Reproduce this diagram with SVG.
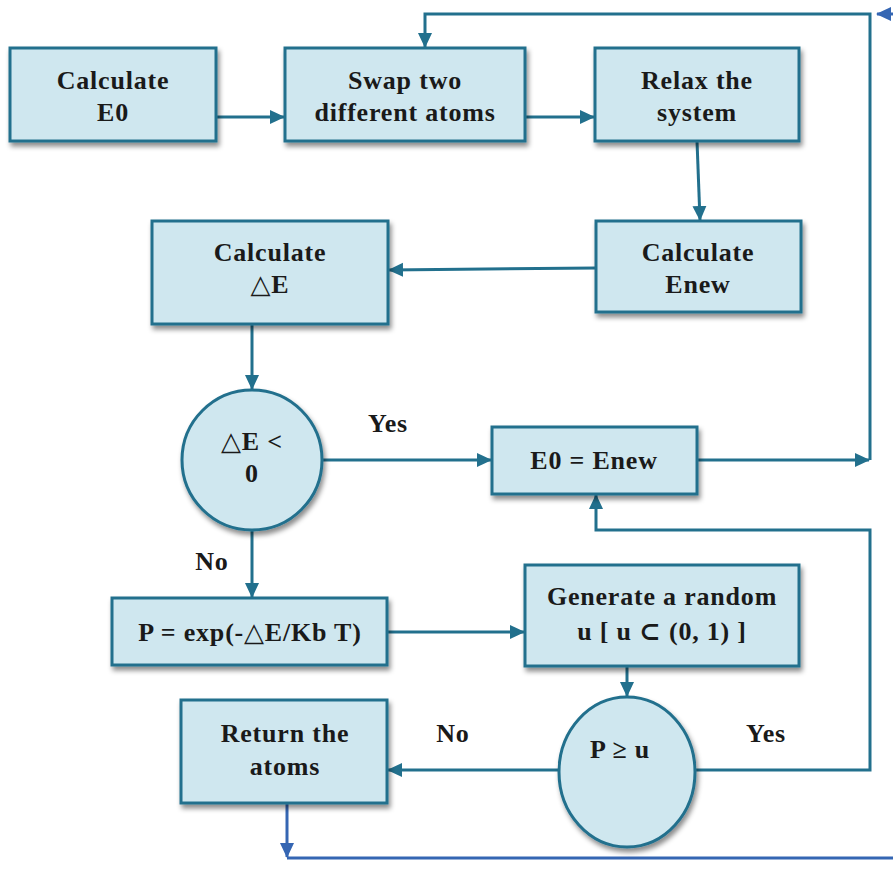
<svg xmlns="http://www.w3.org/2000/svg" width="893" height="876" viewBox="0 0 893 876">
  <style>
    .box { fill: #cfe7ef; stroke: #22708d; stroke-width: 3; filter: url(#shadow); }
    .lbl { font-family: "Liberation Serif", "DejaVu Serif", serif; font-weight: bold; font-size: 26px; letter-spacing: 0.8px; fill: #1a1a1a; text-anchor: middle; }
    .edge { fill: none; stroke: #22708d; stroke-width: 3; }
    .edge.blue { stroke: #3566b3; }
  </style>
  <defs>
    <filter id="shadow" x="-10%" y="-10%" width="125%" height="130%">
      <feDropShadow dx="2" dy="4" stdDeviation="2.5" flood-color="#000" flood-opacity="0.45"/>
    </filter>
    <marker id="arr" markerUnits="userSpaceOnUse" markerWidth="16" markerHeight="16" refX="14" refY="8" orient="auto">
      <path d="M0,1 L15,8 L0,15 Z" fill="#22708d"/>
    </marker>
    <marker id="arrBlue" markerUnits="userSpaceOnUse" markerWidth="16" markerHeight="16" refX="14" refY="8" orient="auto">
      <path d="M0,1 L15,8 L0,15 Z" fill="#3566b3"/>
    </marker>
  </defs>

  <rect width="893" height="876" fill="#fff"/>

  <!-- connectors -->
  <g id="connectors">
    <path class="edge" d="M216,117 H284" marker-end="url(#arr)"/>
    <path class="edge" d="M525,117 H594" marker-end="url(#arr)"/>
    <path class="edge" d="M697,141 L700,220" marker-end="url(#arr)"/>
    <path class="edge" d="M596,268 L389,270" marker-end="url(#arr)"/>
    <path class="edge" d="M252,324 V389" marker-end="url(#arr)"/>
    <path class="edge" d="M321,460 H491" marker-end="url(#arr)"/>
    <path class="edge" d="M697,460 H869" marker-end="url(#arr)"/>
    <path class="edge" d="M870,460 V14 H425 V47" marker-end="url(#arr)"/>
    <path class="edge" d="M252,529 V597" marker-end="url(#arr)"/>
    <path class="edge" d="M387,632 H524" marker-end="url(#arr)"/>
    <path class="edge" d="M627,666 V696" marker-end="url(#arr)"/>
    <path class="edge" d="M559,770 H388" marker-end="url(#arr)"/>
    <path class="edge" d="M696,770 H870 V530 H596 V495" marker-end="url(#arr)"/>
    <path class="edge blue" d="M287,803 V857" marker-end="url(#arrBlue)"/>
    <path class="edge blue" d="M287,858 H893"/>
    <path class="edge blue" d="M893,14 H877" marker-end="url(#arrBlue)"/>
  </g>

  <g id="calc-e0">
    <rect class="box" x="10" y="48" width="206" height="93"/>
    <text class="lbl" x="113" y="89">Calculate</text>
    <text class="lbl" x="113" y="121">E0</text>
  </g>
  <g id="swap">
    <rect class="box" x="285" y="48" width="240" height="93"/>
    <text class="lbl" x="405" y="89">Swap two</text>
    <text class="lbl" x="405" y="121">different atoms</text>
  </g>
  <g id="relax">
    <rect class="box" x="595" y="48" width="204" height="93"/>
    <text class="lbl" x="697" y="89">Relax the</text>
    <text class="lbl" x="697" y="121">system</text>
  </g>
  <g id="calc-enew">
    <rect class="box" x="596" y="221" width="205" height="91"/>
    <text class="lbl" x="698" y="261">Calculate</text>
    <text class="lbl" x="698" y="293">Enew</text>
  </g>
  <g id="calc-de">
    <rect class="box" x="152" y="221" width="236" height="103"/>
    <text class="lbl" x="270" y="261">Calculate</text>
    <text class="lbl" x="270" y="293">△E</text>
  </g>
  <g id="test-de">
    <ellipse class="box" cx="252" cy="460" rx="70" ry="70"/>
    <text class="lbl" x="252" y="450">△E &lt;</text>
    <text class="lbl" x="252" y="482">0</text>
  </g>
  <g id="update-e0">
    <rect class="box" x="492" y="427" width="205" height="67"/>
    <text class="lbl" x="594" y="469">E0 = Enew</text>
  </g>
  <g id="prob">
    <rect class="box" x="112" y="598" width="275" height="67"/>
    <text class="lbl" x="250" y="641">P = exp(-△E/Kb T)</text>
  </g>
  <g id="random">
    <rect class="box" x="525" y="565" width="274" height="101"/>
    <text class="lbl" x="662" y="605">Generate a random</text>
    <text class="lbl" x="662" y="640">u [ u ⊂ (0, 1) ]</text>
  </g>
  <g id="test-pu">
    <ellipse class="box" cx="627" cy="772" rx="68" ry="75"/>
    <text class="lbl" x="620" y="758">P ≥ u</text>
  </g>
  <g id="return">
    <rect class="box" x="181" y="700" width="206" height="103"/>
    <text class="lbl" x="285" y="742">Return the</text>
    <text class="lbl" x="285" y="775">atoms</text>
  </g>

  <g id="edge-labels">
    <text class="lbl" x="388" y="432">Yes</text>
    <text class="lbl" x="212" y="570">No</text>
    <text class="lbl" x="453" y="742">No</text>
    <text class="lbl" x="766" y="742">Yes</text>
  </g>
</svg>
